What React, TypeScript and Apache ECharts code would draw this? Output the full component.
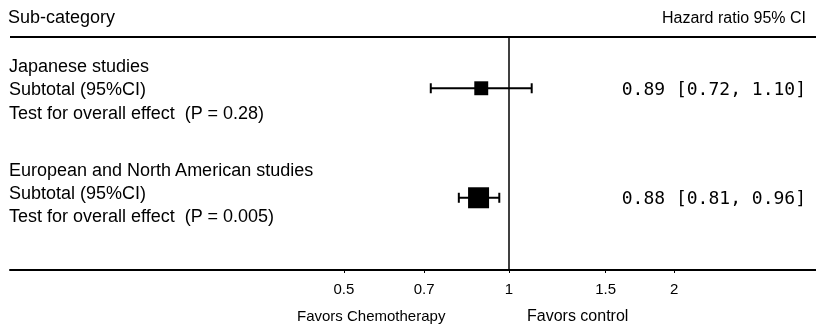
import React, { useEffect, useRef } from "react";
import * as echarts from "echarts";

const groups = ["Japanese studies", "European and North American studies"];
const subtotalLabel = "Subtotal (95%CI)";
const pValues = ["0.28", "0.005"];
const hr = [0.89, 0.88];
const lower = [0.72, 0.81];
const upper = [1.1, 0.96];
const weights = [0.44, 1.0];
const rowPos = [2.2, 6.9];
const tickValues = [0.5, 0.7, 1, 1.5, 2];
const tickLabels = ["0.5", "0.7", "1", "1.5", "2"];
const leftLabel = "Favors Chemotherapy";
const rightLabel = "Favors control";

const FONT = "Liberation Sans, Arial, sans-serif";

export default function App() {
  const ref = useRef<HTMLDivElement>(null);
  useEffect(() => {
    if (!ref.current) return;
    const chart = echarts.init(ref.current, null, { renderer: "svg" });
    const data = hr.map((v, i) => [v, rowPos[i], lower[i], upper[i], weights[i]]);
    const textRows: any[] = [];
    const rowY = [[67, 90, 114], [171, 194, 217]];
    groups.forEach((g, i) => {
      const lines = [g, subtotalLabel, "Test for overall effect  (P = " + pValues[i] + ")"];
      lines.forEach((t, j) => {
        textRows.push({
          type: "text",
          left: 9,
          top: rowY[i][j] - 10,
          style: { text: t, fontSize: 18, fontFamily: FONT, fill: "#000" },
        });
      });
    });
    chart.setOption({
      animation: false,
      grid: { left: 10, right: 0, top: 37, bottom: 56 },
      xAxis: {
        type: "log",
        logBase: 10,
        min: 0.123,
        max: 3.63,
        axisLine: { show: true, onZero: false, lineStyle: { color: "#000", width: 2 } },
        axisTick: { show: true, length: 3, lineStyle: { color: "#000" }, customValues: tickValues },
        axisLabel: {
          customValues: tickValues,
          formatter: (v: number) => tickLabels[tickValues.indexOf(v)] ?? String(v),
          fontSize: 15,
          fontFamily: FONT,
          color: "#000",
          margin: 11,
        },
        splitLine: { show: false },
      },
      yAxis: { type: "value", inverse: true, min: 0, max: 10, show: false },
      graphic: [
        { type: "text", left: 8, top: 8, style: { text: "Sub-category", fontSize: 18, fontFamily: FONT, fill: "#000" } },
        { type: "text", right: 10, top: 9, style: { text: "Hazard ratio 95% CI", fontSize: 16, fontFamily: FONT, fill: "#000" } },
        { type: "line", shape: { x1: 10, y1: 37, x2: 816, y2: 37 }, style: { stroke: "#000", lineWidth: 2 } },
        { type: "text", left: 297, top: 308, style: { text: leftLabel, fontSize: 15, fontFamily: FONT, fill: "#000" } },
        { type: "text", left: 527, top: 307, style: { text: rightLabel, fontSize: 16, fontFamily: FONT, fill: "#000" } },
        ...textRows,
      ],
      series: [
        {
          type: "custom",
          data,
          renderItem: (params: any, api: any) => {
            const y = api.coord([1, api.value(1)])[1];
            const xc = api.coord([api.value(0), api.value(1)])[0];
            const xl = api.coord([api.value(2), api.value(1)])[0];
            const xu = api.coord([api.value(3), api.value(1)])[0];
            const s = 21 * Math.sqrt(api.value(4));
            const idx = params.dataIndex;
            const label =
              hr[idx].toFixed(2) + " [" + lower[idx].toFixed(2) + ", " + upper[idx].toFixed(2) + "]";
            return {
              type: "group",
              children: [
                { type: "line", shape: { x1: xl, y1: y, x2: xu, y2: y }, style: { stroke: "#000", lineWidth: 2 } },
                { type: "line", shape: { x1: xl, y1: y - 5, x2: xl, y2: y + 5 }, style: { stroke: "#000", lineWidth: 2 } },
                { type: "line", shape: { x1: xu, y1: y - 5, x2: xu, y2: y + 5 }, style: { stroke: "#000", lineWidth: 2 } },
                { type: "rect", shape: { x: xc - s / 2, y: y - s / 2, width: s, height: s }, style: { fill: "#000" } },
                {
                  type: "text",
                  x: 806,
                  y: y,
                  style: {
                    text: label,
                    fontSize: 18,
                    fontFamily: "DejaVu Sans Mono, monospace",
                    fill: "#000",
                    align: "right",
                    verticalAlign: "middle",
                  },
                },
              ],
            };
          },
          markLine: {
            silent: true,
            symbol: "none",
            label: { show: false },
            lineStyle: { color: "#000", width: 1.5, type: "solid" },
            data: [{ xAxis: 1 }],
          },
        },
      ],
    });
    return () => chart.dispose();
  }, []);
  return <div ref={ref} style={{ position: "fixed", left: 0, top: 0, width: 816, height: 326 }} />;
}
